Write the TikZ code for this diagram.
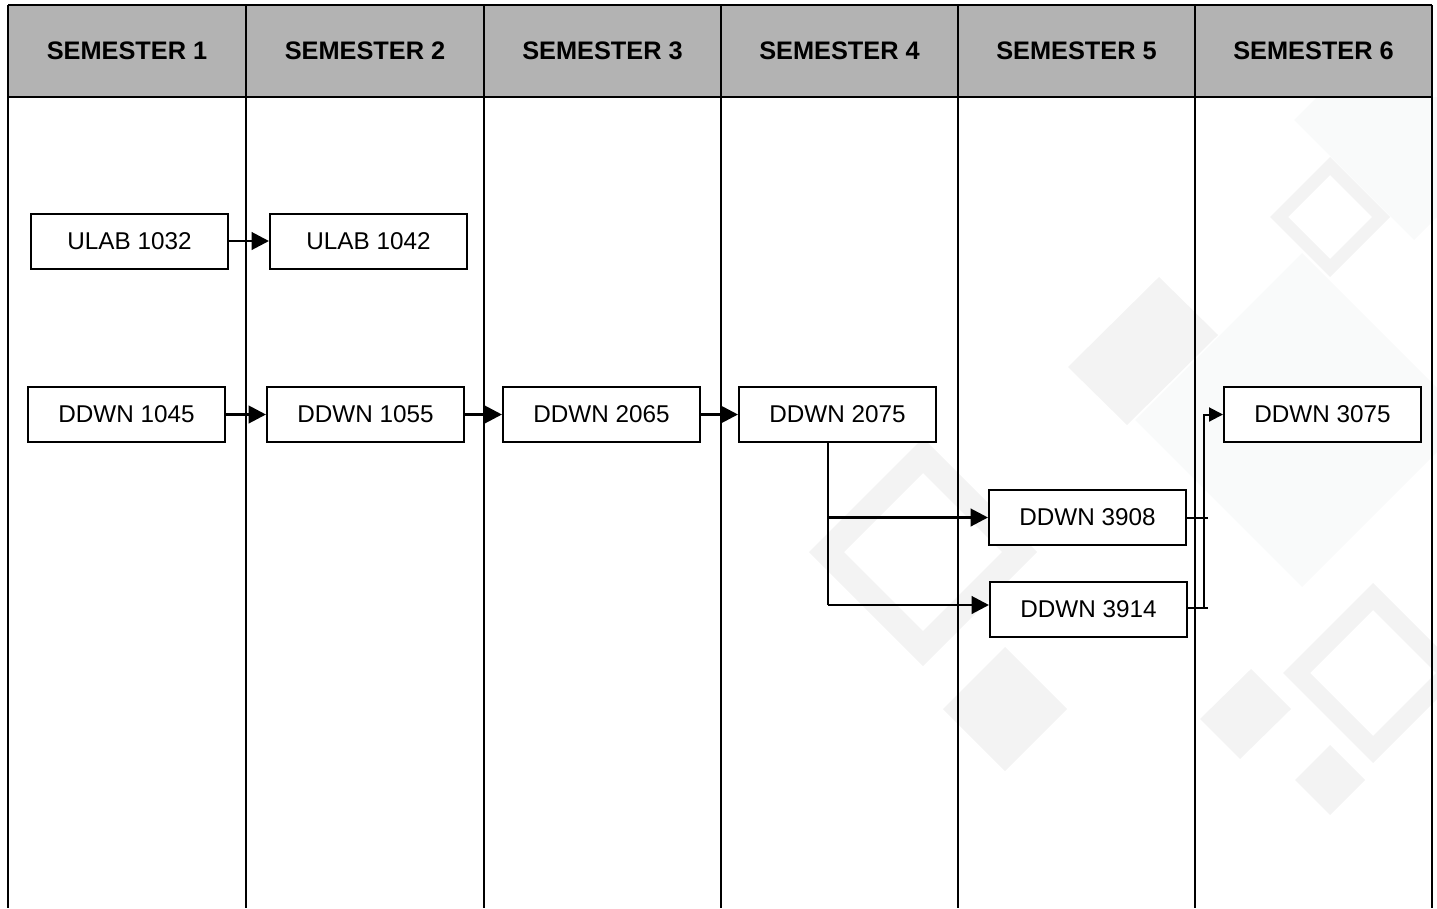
\documentclass[tikz,border=0pt]{standalone}
\usepackage{fontspec}
\setmainfont{Liberation Sans}
\usetikzlibrary{arrows.meta}

\definecolor{hdrgray}{RGB}{179,179,179}
\definecolor{wmark}{RGB}{243,243,243}
\definecolor{wmarkfaint}{RGB}{249,250,250}

\tikzset{
  course/.style={draw, line width=1.5pt, fill=white, inner sep=0pt,
    minimum width=147.75pt, minimum height=41.25pt,
    font=\fontsize{18.2}{22}\selectfont},
  semhead/.style={inner sep=0pt, font=\bfseries\fontsize{19}{23}\selectfont},
  lane/.style={line width=1.5pt},
  flow/.style={line width=2.2pt, -{Triangle[length=13pt,width=13pt]}},
  joinline/.style={line width=1.5pt},
  joinflow/.style={line width=1.5pt, -{Triangle[length=10.5pt,width=10.5pt]}}
}

\begin{document}
\begin{tikzpicture}[x=0.75pt,y=0.75pt,yscale=-1,xscale=1]
\useasboundingbox (0,0) rectangle (1437,908);

% watermark diamonds
\begin{scope}
\clip (0,97) rectangle (1437,908);
%Shape: big faint diamonds
\fill[wmarkfaint] (1302,253) -- (1469,420) -- (1302,587) -- (1135,420) -- cycle;
\fill[wmarkfaint] (1414,0) -- (1534,120) -- (1414,240) -- (1294,120) -- cycle;
%Shape: rings
\fill[wmark, even odd rule] (923,438) -- (1037,552) -- (923,666) -- (809,552) -- cycle
  (923,473) -- (1002,552) -- (923,631) -- (844,552) -- cycle;
\fill[wmark, even odd rule] (1330,157) -- (1390,217) -- (1330,277) -- (1270,217) -- cycle
  (1330,175) -- (1372,217) -- (1330,259) -- (1288,217) -- cycle;
\fill[wmark, even odd rule] (1373,583) -- (1463,673) -- (1373,763) -- (1283,673) -- cycle
  (1373,610) -- (1436,673) -- (1373,736) -- (1310,673) -- cycle;
%Shape: solid diamonds
\fill[wmark] (1068,367) -- (1159,277) -- (1218,335) -- (1127,425) -- cycle;
\fill[wmark] (1251,669) -- (1291,709) -- (1240,759) -- (1200,719) -- cycle;
\fill[wmark] (1330,745) -- (1365,780) -- (1330,815) -- (1295,780) -- cycle;
\fill[wmark] (1005,647) -- (1067,709) -- (1005,771) -- (943,709) -- cycle;
\end{scope}

%Shape: header band
\fill[hdrgray] (8,5) rectangle (1432,97);
\draw[lane] (8,5) -- (1432,5);
\draw[lane] (8,97) -- (1432,97);

%Straight Lines: lanes
\draw[lane] (8,5) -- (8,908);
\draw[lane] (246,5) -- (246,908);
\draw[lane] (484,5) -- (484,908);
\draw[lane] (721,5) -- (721,908);
\draw[lane] (958,5) -- (958,908);
\draw[lane] (1195,5) -- (1195,908);
\draw[lane] (1432,5) -- (1432,908);

% Text Node
\node[semhead] (sem1) at (127,51) {SEMESTER 1};
\node[semhead] (sem2) at (365,51) {SEMESTER 2};
\node[semhead] (sem3) at (602.5,51) {SEMESTER 3};
\node[semhead] (sem4) at (839.5,51) {SEMESTER 4};
\node[semhead] (sem5) at (1076.5,51) {SEMESTER 5};
\node[semhead] (sem6) at (1313.5,51) {SEMESTER 6};

%Shape: courses
\node[course] (ulab1032) at (129.5,241) {ULAB 1032};
\node[course] (ulab1042) at (368.5,241) {ULAB 1042};
\node[course] (ddwn1045) at (126.5,414.5) {DDWN 1045};
\node[course] (ddwn1055) at (365.5,414.5) {DDWN 1055};
\node[course] (ddwn2065) at (601.5,414.5) {DDWN 2065};
\node[course] (ddwn2075) at (837.5,414.5) {DDWN 2075};
\node[course] (ddwn3908) at (1087.5,517.5) {DDWN 3908};
\node[course] (ddwn3914) at (1088.5,609) {DDWN 3914};
\node[course] (ddwn3075) at (1322.5,414.5) {DDWN 3075};

%Straight Lines: prerequisites
\draw[flow] (ulab1032) -- (ulab1042);
\draw[flow] (ddwn1045) -- (ddwn1055);
\draw[flow] (ddwn1055) -- (ddwn2065);
\draw[flow] (ddwn2065) -- (ddwn2075);

%Straight Lines: split after semester 4
\coordinate (fork) at (828,605);
\draw[flow, -] (ddwn2075.south -| fork) -- (fork);
\draw[flow] (fork |- ddwn3908) -- (ddwn3908.west);
\draw[flow] (fork) -- (fork -| ddwn3914.west);

%Straight Lines: merge into semester 6
\coordinate (merge) at (1204,608);
\coordinate (stub) at (1208,0);
\draw[joinline] (ddwn3908.east) -- (ddwn3908.east -| stub);
\draw[joinline] (ddwn3914.east |- merge) -- (merge -| stub);
\draw[joinflow] (merge) |- (ddwn3075.west);

\end{tikzpicture}
\end{document}
